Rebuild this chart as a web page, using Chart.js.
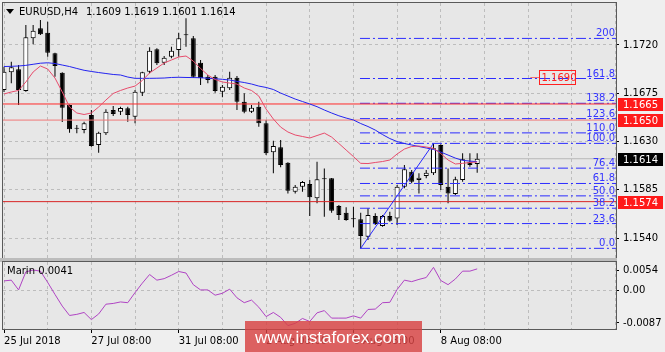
<!DOCTYPE html>
<html>
<head>
<meta charset="utf-8">
<script src="https://cdn.jsdelivr.net/npm/chart.js@4.4.1/dist/chart.umd.min.js"></script>
<style>
html, body { margin: 0; padding: 0; background: #efefef; }
#wrap { position: relative; width: 665px; height: 352px; overflow: hidden; }
#main { position: absolute; left: 0; top: 0; }
#sub { position: absolute; left: 0; top: 258px; }
</style>
</head>
<body>
<div id="wrap">
  <canvas id="main" width="665" height="258" style="width:665px;height:258px"></canvas>
  <canvas id="sub" width="665" height="94" style="width:665px;height:94px"></canvas>
</div>
<script>
// EURUSD H4 candles
const opens = [1.16780, 1.16945, 1.16973, 1.16771, 1.17262, 1.17355, 1.17314, 1.17122, 1.16941, 1.16640,
  1.16423, 1.16407, 1.16547, 1.16268, 1.16377, 1.16594, 1.16578, 1.16610, 1.16531, 1.16755,
  1.16951, 1.17160, 1.17035, 1.17091, 1.17153, 1.17293, 1.17262, 1.17035, 1.16904, 1.16904,
  1.16764, 1.16796, 1.16895, 1.16671, 1.16578, 1.16625, 1.16470, 1.16200, 1.16246, 1.16103,
  1.15832, 1.15879, 1.15904, 1.15771, 1.15957, 1.15957, 1.15699, 1.15637, 1.15575, 1.15575,
  1.15413, 1.15606, 1.15513, 1.15606, 1.15584, 1.15879, 1.16019, 1.15941, 1.15979, 1.16004,
  1.16268, 1.15879, 1.15811, 1.15941, 1.16112, 1.16090];
const highs = [1.16997, 1.17044, 1.17013, 1.17386, 1.17386, 1.17433, 1.17417, 1.17128, 1.16945, 1.16645,
  1.16454, 1.16485, 1.16594, 1.16392, 1.16600, 1.16631, 1.16625, 1.16625, 1.16780, 1.16951,
  1.17178, 1.17169, 1.17097, 1.17184, 1.17314, 1.17448, 1.17283, 1.17060, 1.16920, 1.16920,
  1.16827, 1.16951, 1.16911, 1.16749, 1.16640, 1.16671, 1.16501, 1.16308, 1.16314, 1.16108,
  1.15895, 1.15932, 1.15941, 1.16112, 1.16050, 1.15960, 1.15708, 1.15687, 1.15693, 1.15637,
  1.15678, 1.15631, 1.15615, 1.15646, 1.15895, 1.16081, 1.16035, 1.16004, 1.16035, 1.16283,
  1.16275, 1.16050, 1.15972, 1.16190, 1.16190, 1.16190];
const lows = [1.16762, 1.16843, 1.16640, 1.16764, 1.17206, 1.17293, 1.17091, 1.16904, 1.16482, 1.16382,
  1.16377, 1.16377, 1.16252, 1.16196, 1.16361, 1.16538, 1.16547, 1.16485, 1.16470, 1.16724,
  1.16936, 1.17013, 1.17013, 1.17076, 1.17091, 1.17184, 1.16892, 1.16827, 1.16843, 1.16755,
  1.16712, 1.16780, 1.16594, 1.16563, 1.16566, 1.16438, 1.16174, 1.16004, 1.16060, 1.15817,
  1.15817, 1.15832, 1.15606, 1.15724, 1.15599, 1.15637, 1.15569, 1.15562, 1.15501, 1.15305,
  1.15382, 1.15522, 1.15506, 1.15553, 1.15522, 1.15864, 1.15911, 1.15817, 1.15957, 1.15988,
  1.15848, 1.15724, 1.15802, 1.15926, 1.16065, 1.16010];
const closes = [1.16951, 1.16992, 1.16780, 1.17271, 1.17333, 1.17299, 1.17128, 1.17004, 1.16615, 1.16414,
  1.16420, 1.16470, 1.16258, 1.16382, 1.16578, 1.16557, 1.16612, 1.16547, 1.16764, 1.16945,
  1.17146, 1.17029, 1.17081, 1.17146, 1.17262, 1.17290, 1.16904, 1.16889, 1.16873, 1.16771,
  1.16811, 1.16895, 1.16671, 1.16578, 1.16615, 1.16470, 1.16190, 1.16258, 1.16081, 1.15842,
  1.15879, 1.15923, 1.15780, 1.15948, 1.15948, 1.15655, 1.15615, 1.15569, 1.15578, 1.15420,
  1.15615, 1.15531, 1.15606, 1.15562, 1.15879, 1.16041, 1.15926, 1.15963, 1.16009, 1.16237,
  1.15895, 1.15817, 1.15948, 1.16134, 1.16081, 1.16140];

// moving averages
const redMa = [1.16743, 1.16762, 1.16776, 1.16855, 1.16948, 1.17004, 1.16976, 1.16892, 1.16762, 1.16622,
  1.16566, 1.16552, 1.16566, 1.16622, 1.16687, 1.16748, 1.16776, 1.16799, 1.16817, 1.16869,
  1.16939, 1.16985, 1.17032, 1.17060, 1.17088, 1.17097, 1.17050, 1.16981, 1.16920, 1.16878,
  1.16855, 1.16845, 1.16836, 1.16799, 1.16776, 1.16724, 1.16603, 1.16510, 1.16435, 1.16389,
  1.16361, 1.16347, 1.16333, 1.16356, 1.16379, 1.16342, 1.16282, 1.16221, 1.16160, 1.16097,
  1.16095, 1.16105, 1.16114, 1.16128, 1.16184, 1.16230, 1.16254, 1.16258, 1.16249, 1.16237,
  1.16188, 1.16128, 1.16091, 1.16097, 1.16105, 1.16109];
const blueMa = [1.16999, 1.17001, 1.17004, 1.17010, 1.17020, 1.17030, 1.17034, 1.17027, 1.17013, 1.16999,
  1.16981, 1.16964, 1.16953, 1.16943, 1.16934, 1.16925, 1.16920, 1.16901, 1.16889, 1.16889,
  1.16889, 1.16890, 1.16892, 1.16897, 1.16899, 1.16897, 1.16896, 1.16895, 1.16890, 1.16885,
  1.16880, 1.16873, 1.16861, 1.16850, 1.16836, 1.16817, 1.16804, 1.16785, 1.16752, 1.16724,
  1.16696, 1.16673, 1.16650, 1.16625, 1.16594, 1.16566, 1.16540, 1.16519, 1.16501, 1.16468,
  1.16440, 1.16407, 1.16365, 1.16328, 1.16300, 1.16282, 1.16268, 1.16254, 1.16240, 1.16226,
  1.16202, 1.16174, 1.16146, 1.16125, 1.16118, 1.16112];

// oscillator in the lower window
const marin = [0.0025, 0.0027, 0.0001, 0.0049, 0.0054, 0.0051, 0.0021, -0.0011, -0.0042, -0.0067,
  -0.0064, -0.0059, -0.0078, -0.0063, -0.0037, -0.0035, -0.0031, -0.0033, -0.0006, 0.0019,
  0.0042, 0.0027, 0.0031, 0.0040, 0.0050, 0.0046, 0.0015, 0.0001, 0.0001, -0.0013,
  -0.0008, 0.0003, -0.0020, -0.0033, -0.0026, -0.0045, -0.0070, -0.0059, -0.0072, -0.0094,
  -0.0088, -0.0075, -0.0083, -0.0060, -0.0054, -0.0074, -0.0074, -0.0074, -0.0068, -0.0074,
  -0.0051, -0.0050, -0.0033, -0.0032, 0.0002, 0.0027, 0.0023, 0.0029, 0.0034, 0.0061,
  0.0026, 0.0015, 0.0030, 0.0051, 0.0051, 0.0057];

const priceTicks = [1.1540, 1.1585, 1.1630, 1.1675, 1.1720];
const subTicks = [-0.0087, 0, 0.0054];
const dateLabels = ['25 Jul 2018', '27 Jul 08:00', '31 Jul 08:00', '2 Aug 08:00', '6 Aug 08:00', '8 Aug 08:00'];

const redLevels = [1.1665, 1.1650, 1.1574];
const redColors = ['#ff2a2a', '#f07878', '#d82424'];
const lastPrice = 1.1614;
const arrowPrice = 1.1690;

const fibLow = 1.15305, fibHigh = 1.16283;
const fibLowBar = 49, fibHighBar = 59;
const fibLevels = [0, 23.6, 38.2, 50, 61.8, 76.4, 100, 110, 123.6, 138.2, 161.8, 200];
const fibLabels = ['0.0', '23.6', '38.2', '50.0', '61.8', '76.4', '100.0', '110.0', '123.6', '138.2', '161.8', '200'];

const X_MIN = -0.14, X_MAX = 84.07;
const FONT = "'DejaVu Sans', sans-serif";

Chart.defaults.font.family = FONT;
Chart.defaults.font.size = 10;
Chart.defaults.color = '#000';

function pts(arr) { return arr.map((v, i) => ({ x: i, y: v })); }
function hline(v, from) { return [{ x: from, y: v }, { x: X_MAX, y: v }]; }
function lineSet(data, color, order, dash) {
  return { type: 'line', data: data, borderColor: color, borderWidth: 1, borderDash: dash || [],
    pointRadius: 0, tension: 0, fill: false, order: order };
}
function fibPrice(l) { return fibLow + (fibHigh - fibLow) * l / 100; }

const gridTicks = [];
for (let v = 0; v <= 84; v += 6) gridTicks.push({ value: v });

const panel = {
  id: 'panel',
  beforeDraw(c) {
    const a = c.chartArea, g = c.ctx;
    g.save();
    g.fillStyle = '#e7e7e7';
    g.fillRect(a.left, a.top, a.right - a.left, a.bottom - a.top);
    g.restore();
  },
  afterDraw(c) {
    const a = c.chartArea, g = c.ctx;
    g.save();
    g.strokeStyle = '#5a5a5a';
    g.lineWidth = 1;
    g.strokeRect(a.left - 0.5, a.top - 0.5, a.right - a.left + 1, a.bottom - a.top + 1);
    g.restore();
  }
};

const mainText = {
  id: 'mainText',
  afterDraw(c) {
    const g = c.ctx, x = c.scales.x, y = c.scales.y, a = c.chartArea;
    g.save();
    g.font = '10px ' + FONT;
    // header
    g.fillStyle = '#000';
    g.beginPath(); g.moveTo(6, 9); g.lineTo(14, 9); g.lineTo(10, 14); g.closePath(); g.fill();
    g.textBaseline = 'middle';
    g.fillText('EURUSD,H4', 19, 12);
    g.fillText('1.1609 1.1619 1.1601 1.1614', 86, 12);
    // fibo labels
    g.fillStyle = '#3434ff';
    g.textAlign = 'right';
    g.textBaseline = 'alphabetic';
    fibLevels.forEach((l, i) => {
      g.fillText(fibLabels[i], a.right - 1, y.getPixelForValue(fibPrice(l)) - 2);
    });
    // price label 1.1690
    const py = Math.round(y.getPixelForValue(arrowPrice)) + 0.5;
    const bx = Math.round(x.getPixelForValue(73.5)) + 0.5;
    g.strokeStyle = '#f07070';
    g.beginPath(); g.moveTo(x.getPixelForValue(72.3), py); g.lineTo(bx, py); g.stroke();
    g.strokeStyle = '#ff2020';
    g.strokeRect(bx, py - 7, 36, 14);
    g.fillStyle = '#ff2020';
    g.textAlign = 'left';
    g.textBaseline = 'middle';
    g.fillText(arrowPrice.toFixed(4), bx + 2, py + 1);
    // axis value boxes
    const boxes = [[redLevels[0], '#ff1a1a'], [redLevels[1], '#ff1a1a'], [lastPrice, '#000'], [redLevels[2], '#ff1a1a']];
    boxes.forEach(b => {
      const yy = Math.round(y.getPixelForValue(b[0]));
      g.fillStyle = b[1];
      g.fillRect(a.right + 2, yy - 6, 45, 13);
      g.fillStyle = '#fff';
      g.fillText(b[0].toFixed(4), a.right + 7, yy + 1);
    });
    g.restore();
  }
};

const subText = {
  id: 'subText',
  beforeDraw(c) {
    const g = c.ctx;
    g.save();
    g.fillStyle = '#bcbcbc';
    g.fillRect(0, 0, c.chartArea.right + 1, c.chartArea.top);
    g.restore();
  },
  afterDraw(c) {
    const g = c.ctx;
    g.save();
    g.font = '10px ' + FONT;
    g.fillStyle = '#000';
    g.textBaseline = 'middle';
    g.fillText('Marin 0.0041', 7, 13);
    // watermark
    g.fillStyle = 'rgba(216, 66, 66, 0.82)';
    g.fillRect(245, 63, 177, 31);
    g.fillStyle = '#fff';
    g.font = "17px 'Liberation Sans', sans-serif";
    g.textBaseline = 'alphabetic';
    g.fillText('www.instaforex.com', 255, 85);
    g.restore();
  }
};

const candleBodies = opens.map((o, i) => ({ x: i, y: [o, closes[i]] }));
const candleWicks = lows.map((l, i) => ({ x: i, y: [l, highs[i]] }));
function bodyFill(i) {
  return (closes[i] < opens[i] || Math.abs(closes[i] - opens[i]) < 0.00008) ? '#000' : '#fff';
}

const datasets = [
  lineSet(hline(lastPrice, X_MIN), '#b8b8b8', 30),
  { type: 'bar', data: candleWicks, backgroundColor: '#000', barThickness: 1, grouped: false,
    inflateAmount: 0, order: 21 },
  { type: 'bar', data: candleBodies, backgroundColor: ctx => bodyFill(ctx.dataIndex), borderColor: '#000',
    borderWidth: 1, borderSkipped: false, barThickness: 5, minBarLength: 1, grouped: false,
    inflateAmount: 0, order: 20 }
];
fibLevels.forEach(l => datasets.push(lineSet(hline(fibPrice(l), fibLowBar - 0.1), '#2c2cff', 6, [10, 3, 2, 3])));
redLevels.forEach((v, i) => datasets.push(lineSet(hline(v, X_MIN), redColors[i], 5)));
datasets.push(lineSet([{ x: fibLowBar, y: fibLow }, { x: fibHighBar, y: fibHigh }], '#2a2aff', 4));
datasets.push(lineSet(pts(blueMa), '#2424f0', 3));
datasets.push(lineSet(pts(redMa), '#e84c6c', 2));

new Chart(document.getElementById('main'), {
  type: 'bar',
  data: { datasets: datasets },
  options: {
    responsive: false, animation: false, devicePixelRatio: 1,
    layout: { padding: { left: 3, top: 3, right: 0, bottom: 0 } },
    plugins: { legend: { display: false }, tooltip: { enabled: false } },
    scales: {
      x: {
        type: 'linear', min: X_MIN, max: X_MAX, offset: false,
        afterBuildTicks: s => { s.ticks = gridTicks.slice(); },
        ticks: { display: false },
        grid: { color: '#bdbdbd', drawTicks: false, offset: false },
        border: { display: false, dash: [3, 3] },
        afterFit: s => { s.height = 0; s.paddingLeft = 0; s.paddingRight = 0; }
      },
      y: {
        position: 'right', min: 1.15215, max: 1.17591,
        afterBuildTicks: s => { s.ticks = priceTicks.map(v => ({ value: v })); },
        ticks: { padding: 4, callback: v => v.toFixed(4) },
        grid: { color: '#bdbdbd', tickLength: 3, tickColor: '#000' },
        border: { display: false, dash: [3, 3] },
        afterFit: s => { s.width = 49; s.paddingTop = 0; s.paddingBottom = 0; }
      }
    }
  },
  plugins: [panel, mainText]
});

new Chart(document.getElementById('sub'), {
  type: 'line',
  data: { datasets: [lineSet(pts(marin), '#b044c4', 1)] },
  options: {
    responsive: false, animation: false, devicePixelRatio: 1,
    layout: { padding: { left: 3, top: 4, right: 0, bottom: 0 } },
    plugins: { legend: { display: false }, tooltip: { enabled: false } },
    scales: {
      x: {
        type: 'linear', min: X_MIN, max: X_MAX,
        afterBuildTicks: s => { s.ticks = gridTicks.slice(); },
        ticks: {
          align: 'start', maxRotation: 0, autoSkip: false, padding: 2,
          callback: v => (v % 12 === 0 && dateLabels[v / 12]) ? dateLabels[v / 12] : ''
        },
        grid: {
          color: '#bdbdbd', tickLength: 4,
          tickColor: ctx => (ctx.tick && ctx.tick.value % 12 === 0 && ctx.tick.value <= 60) ? '#000' : 'rgba(0,0,0,0)'
        },
        border: { display: false, dash: [3, 3] },
        afterFit: s => { s.height = 23; s.paddingLeft = 0; s.paddingRight = 0; }
      },
      y: {
        position: 'right', min: -0.0103, max: 0.00753,
        afterBuildTicks: s => { s.ticks = subTicks.map(v => ({ value: v })); },
        ticks: { padding: 4, callback: v => v === 0 ? '0.00' : v.toFixed(4) },
        grid: { color: ctx => (ctx.tick && ctx.tick.value === 0) ? '#bdbdbd' : 'rgba(0,0,0,0)', tickLength: 3, tickColor: '#000' },
        border: { display: false, dash: [3, 3] },
        afterFit: s => { s.width = 49; s.paddingTop = 0; s.paddingBottom = 0; }
      }
    }
  },
  plugins: [panel, subText]
});
</script>
</body>
</html>
